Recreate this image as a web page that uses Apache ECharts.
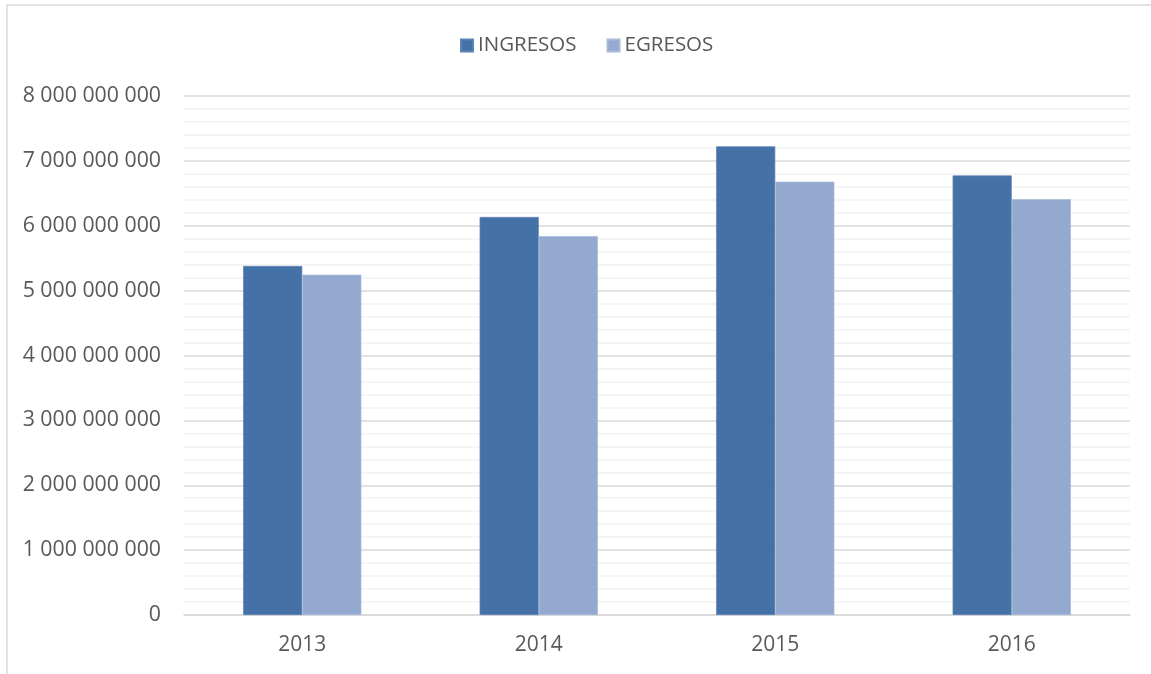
<!DOCTYPE html>
<html><head><meta charset="utf-8">
<script src="https://cdn.jsdelivr.net/npm/echarts@6/dist/echarts.min.js"></script>
<style>html,body{margin:0;padding:0;background:#fff}#c{width:1151px;height:674px}</style>
</head><body><div id="c"></div>
<script>
const categories = ['2013', '2014', '2015', '2016'];
const ingresos = [5380000000, 6135000000, 7225000000, 6775000000];
const egresos = [5245000000, 5840000000, 6680000000, 6410000000];
const seriesNames = ['INGRESOS', 'EGRESOS'];
const yMin = 0, yMax = 8000000000, yStep = 1000000000, yMinorStep = 200000000;

function fmt(v) {
  return String(Math.round(v)).replace(/\B(?=(\d{3})+(?!\d))/g, ' ');
}
const FONT = 'Open Sans';
const chart = echarts.init(document.getElementById('c'), null, {renderer: 'canvas'});
chart.setOption({
  animation: false,
  backgroundColor: '#fff',
  textStyle: {fontFamily: FONT},
  graphic: [{
    type: 'rect', shape: {x: 7, y: 5, width: 1200, height: 700},
    style: {fill: 'none', stroke: '#d9d9d9', lineWidth: 1.5}, silent: true
  }],
  legend: {
    top: 30, left: 455, itemWidth: 12, itemHeight: 12, itemGap: 30,
    icon: 'rect',
    textStyle: {color: '#595959', fontSize: 20.5, fontFamily: FONT}
  },
  grid: {left: 184, right: 21, top: 96, bottom: 59, containLabel: false},
  xAxis: {
    type: 'category', data: categories,
    axisLine: {lineStyle: {color: '#d9d9d9', width: 1.5}},
    axisTick: {show: false},
    axisLabel: {color: '#595959', fontSize: 21, margin: 20, fontFamily: FONT}
  },
  yAxis: {
    type: 'value', min: yMin, max: yMax, interval: yStep,
    axisLine: {show: false}, axisTick: {show: false},
    axisLabel: {color: '#595959', fontSize: 21.3, margin: 23, formatter: fmt, fontFamily: FONT},
    splitLine: {lineStyle: {color: '#d9d9d9', width: 1.5}},
    minorTick: {show: false, splitNumber: yStep / yMinorStep},
    minorSplitLine: {show: true, lineStyle: {color: '#f2f2f2', width: 1.5}}
  },
  series: [
    {name: seriesNames[0], type: 'bar', data: ingresos, barWidth: '25%', barGap: '0%',
     itemStyle: {color: '#4472a7', borderColor: '#5b84b6', borderWidth: 0.7}},
    {name: seriesNames[1], type: 'bar', data: egresos, barWidth: '25%', barGap: '0%',
     itemStyle: {color: '#94a9cf', borderColor: '#a9bada', borderWidth: 0.7}}
  ]
});
</script></body></html>
